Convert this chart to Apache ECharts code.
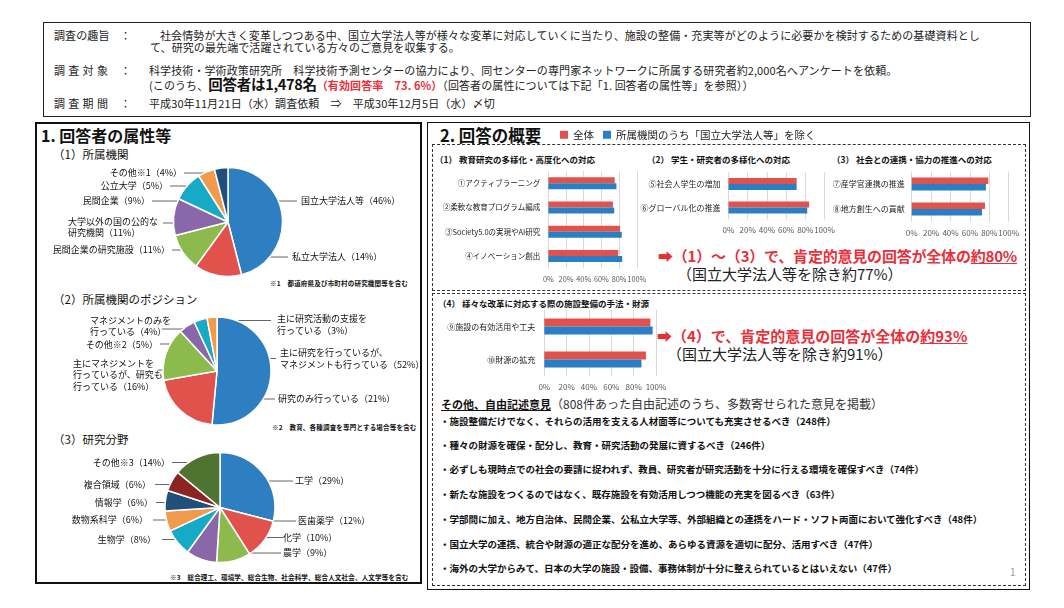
<!DOCTYPE html>
<html><head><meta charset="utf-8">
<script src="https://cdn.jsdelivr.net/npm/echarts@6/dist/echarts.min.js"></script>
<style>
html,body{margin:0;padding:0;background:#fff;}
#wrap{position:relative;width:1064px;height:608px;overflow:hidden;font-family:"Noto Sans CJK JP",sans-serif;color:#111;}
.t{position:absolute;white-space:nowrap;line-height:1;}
.box{position:absolute;box-sizing:border-box;}
.b{font-weight:bold;}
.red{color:#E8303A;}
#chart{position:absolute;left:0;top:0;width:1064px;height:608px;}
.h{font-size:11px;letter-spacing:0.1px;color:#222;}
.lab{font-size:11px;letter-spacing:3.3px;color:#222;}
.fn{font-size:6.5px;font-weight:bold;letter-spacing:0.2px;}
.sec{font-size:8.5px;font-weight:bold;}
.bul{font-size:9.5px;font-weight:bold;left:440px;}
.big{font-size:15px;}
</style></head>
<body><div id="wrap">
<!-- boxes -->
<div class="box" style="left:43px;top:22px;width:988px;height:95px;border:1px solid #222;"></div>
<div class="box" style="left:35px;top:122px;width:387px;height:462px;border:2px solid #111;"></div>
<div class="box" style="left:427px;top:122px;width:603px;height:468px;border:1.5px solid #111;"></div>
<div class="box" style="left:432px;top:144px;width:594px;height:147px;border:1.5px dashed #333;"></div>
<div class="box" style="left:432px;top:293px;width:594px;height:293px;border:1.5px dashed #333;"></div>

<!-- header -->
<div class="t h" style="left:54px;top:29.5px;">調査の趣旨</div>
<div class="t h" style="left:120px;top:29.5px;">：</div>
<div class="t h" style="left:160px;top:29.5px;">社会情勢が大きく変革しつつある中、国立大学法人等が様々な変革に対応していくに当たり、施設の整備・充実等がどのように必要かを検討するための基礎資料とし</div>
<div class="t h" style="left:150px;top:42px;">て、研究の最先端で活躍されている方々のご意見を収集する。</div>
<div class="t lab" style="left:54px;top:64.5px;">調査対象</div>
<div class="t h" style="left:120px;top:64.5px;">：</div>
<div class="t h" style="left:149px;top:64.5px;">科学技術・学術政策研究所　科学技術予測センターの協力により、同センターの専門家ネットワークに所属する研究者約2,000名へアンケートを依頼。</div>
<div class="t h" style="left:149px;top:77px;line-height:14px;">(このうち、<span style="font-size:14.5px;font-weight:bold;color:#111;letter-spacing:-0.3px;">回答者は1,478名</span><span class="red b">（有効回答率　73. 6%）</span>（回答者の属性については下記「1. 回答者の属性等」を参照））</div>
<div class="t lab" style="left:54px;top:97.5px;">調査期間</div>
<div class="t h" style="left:120px;top:97.5px;">：</div>
<div class="t h" style="left:149px;top:97.5px;">平成30年11月21日（水）調査依頼　⇒　平成30年12月5日（水）〆切</div>

<!-- left panel -->
<div class="t b" style="left:41px;top:127px;font-size:16px;">1. 回答者の属性等</div>
<div class="t" style="left:53px;top:149px;font-size:11.5px;">（1）所属機関</div>
<div class="t fn" style="left:270px;top:280px;">※1　都道府県及び市町村の研究機関等を含む</div>
<div class="t" style="left:53px;top:294px;font-size:11.5px;">（2）所属機関のポジション</div>
<div class="t fn" style="left:272px;top:424px;">※2　教育、各種調査を専門とする場合等を含む</div>
<div class="t" style="left:53px;top:433.5px;font-size:11.5px;">（3）研究分野</div>
<div class="t fn" style="left:170px;top:573.5px;">※3　総合理工、環境学、総合生物、社会科学、総合人文社会、人文学等を含む</div>

<!-- right panel -->
<div class="t b" style="left:440px;top:127px;font-size:16.5px;">2. 回答の概要</div>
<div class="t sec" style="left:435px;top:155px;">（1） 教育研究の多様化・高度化への対応</div>
<div class="t sec" style="left:647px;top:155px;">（2） 学生・研究者の多様化への対応</div>
<div class="t sec" style="left:832px;top:155px;">（3） 社会との連携・協力の推進への対応</div>
<div class="t big b red" style="left:658px;top:247.5px;letter-spacing:-0.2px;">➡（1）～（3）で、肯定的意見の回答が全体の<span style="text-decoration:underline;">約80%</span></div>
<div class="t big" style="left:677px;top:266px;color:#222;">（国立大学法人等を除き約77%）</div>
<div class="t sec" style="left:438px;top:298.5px;">（4） 様々な改革に対応する際の施設整備の手法・財源</div>
<div class="t big b red" style="left:657px;top:327.5px;">➡（4）で、肯定的意見の回答が全体の<span style="text-decoration:underline;">約93%</span></div>
<div class="t big" style="left:667px;top:346px;color:#222;">（国立大学法人等を除き約91%）</div>

<div class="t" style="left:441px;top:398px;font-size:12px;"><span class="b" style="text-decoration:underline;font-size:11px;">その他、自由記述意見</span><span style="color:#333;">（808件あった自由記述のうち、多数寄せられた意見を掲載）</span></div>
<div class="t bul" style="top:417px;">・施設整備だけでなく、それらの活用を支える人材面等についても充実させるべき（248件）</div>
<div class="t bul" style="top:441px;">・種々の財源を確保・配分し、教育・研究活動の発展に資するべき（246件）</div>
<div class="t bul" style="top:465px;">・必ずしも現時点での社会の要請に捉われず、教員、研究者が研究活動を十分に行える環境を確保すべき（74件）</div>
<div class="t bul" style="top:490px;">・新たな施設をつくるのではなく、既存施設を有効活用しつつ機能の充実を図るべき（63件）</div>
<div class="t bul" style="top:515px;">・学部間に加え、地方自治体、民間企業、公私立大学等、外部組織との連携をハード・ソフト両面において強化すべき（48件）</div>
<div class="t bul" style="top:540px;">・国立大学の連携、統合や財源の適正な配分を進め、あらゆる資源を適切に配分、活用すべき（47件）</div>
<div class="t bul" style="top:564px;">・海外の大学からみて、日本の大学の施設・設備、事務体制が十分に整えられているとはいえない（47件）</div>
<div class="t" style="left:1010px;top:567px;font-size:10px;color:#999;">1</div>

<div id="chart"></div>
</div>
<script>
// ---------- data ----------
const pie1Names = ['国立大学法人等','私立大学法人','民間企業の研究施設','大学以外の国の公的な\n研究機関','民間企業','公立大学','その他※1'];
const pie1Values = [46,14,11,11,9,5,4];
const pie2Names = ['主に研究を行っているが、\nマネジメントも行っている','研究のみ行っている','主にマネジメントを\n行っているが、研究も\n行っている','その他※2','マネジメントのみを\n行っている','主に研究活動の支援を\n行っている'];
const pie2Values = [52,21,16,5,4,3];
const pie3Names = ['工学','医歯薬学','化学','農学','生物学','数物系科学','情報学','複合領域','その他※3'];
const pie3Values = [29,12,10,9,8,6,6,6,14];

const seriesNames = ['全体','所属機関のうち「国立大学法人等」を除く'];
const sec1Cats = ['①アクティブラーニング','②柔軟な教育プログラム編成','③Society5.0の実現やAI研究','④イノベーション創出'];
const sec1All  = [75,73,81,79];
const sec1Excl = [77,74.5,83,83.5];
const sec2Cats = ['⑤社会人学生の増加','⑥グローバル化の推進'];
const sec2All  = [71,84];
const sec2Excl = [71,82];
const sec3Cats = ['⑦産学官連携の推進','⑧地方創生への貢献'];
const sec3All  = [79,75.5];
const sec3Excl = [76.5,72.5];
const sec4Cats = ['⑨施設の有効活用や工夫','⑩財源の拡充'];
const sec4All  = [95,91];
const sec4Excl = [97,87];

// ---------- layout / style ----------
const FONT = '"Noto Sans CJK JP", sans-serif';
const pal1 = ['#2E7FC2','#E1524C','#8CBA4C','#8A67A8','#17AAC6','#F29A4C','#1F4F7A'];
const pal2 = ['#2E7FC2','#E1524C','#8CBA4C','#8A67A8','#17AAC6','#F29A4C'];
const pal3 = ['#2E7FC2','#E1524C','#8CBA4C','#8A67A8','#17AAC6','#F29A4C','#1F4F7A','#8C2422','#4F7330'];
// [labelX, labelY, align, lineX1, lineX2, lineY]
const pie1Lay = [
  [301,201,'left',243,297,201],
  [292,257,'left',218,288,257],
  [170,250,'right',172,190,250],
  [68,227,'left',163,203,223],
  [150,201,'right',152,207,201],
  [168,186,'right',170,213,186],
  [182,173,'right',184,217,173]
];
const pie2Lay = [
  [280,358.5,'left',237,276,358.5],
  [278,399,'left',190,275,399],
  [73,375,'left',158,178,370],
  [158,345,'right',160,202,344],
  [90,326,'left',162,207,329],
  [277,324.5,'left',213,271,320.5]
];
const pie3Lay = [
  [295,481,'left',247,293,481],
  [298,521,'left',252,296,521],
  [283,537.5,'left',230,283,537.5],
  [283,553,'left',208,281,553],
  [156,539.5,'right',162,192,539.5],
  [148,520,'right',153,182,520],
  [153,502.5,'right',156,178,502.5],
  [151,484.5,'right',155,180,484.5],
  [170,462.5,'right',172,207,462.5]
];

function pieSeries(names, values, pal, center, radius, lay) {
  return {
    type: 'pie', center: center, radius: radius, startAngle: 90, clockwise: true,
    avoidLabelOverlap: false, silent: true, animation: false,
    data: names.map((n, i) => ({ name: n, value: values[i], itemStyle: { color: pal[i] } })),
    itemStyle: { borderColor: '#fff', borderWidth: 1.5 },
    label: { show: true, position: 'outside', formatter: '{b}（{c}%）', fontSize: 9, lineHeight: 11.5,
             color: '#111', fontFamily: FONT },
    labelLine: { show: true, length: 5, length2: 5, lineStyle: { color: '#404040', width: 0.8 } },
    labelLayout: function (p) {
      const L = lay[p.dataIndex];
      return { x: L[0], y: L[1], align: L[2], verticalAlign: 'middle',
               labelLinePoints: [[L[3], L[5]], [L[4], L[5]]] };
    }
  };
}

const grids = [
  { left: 548.3, top: 171.2, width: 88.5, height: 97, bw: 6, m: 8, fs: 7.5, tfs: 7.3 },
  { left: 728.5, top: 172.3, width: 96, height: 47, bw: 6, m: 8, fs: 8, tfs: 8 },
  { left: 911.7, top: 171.5, width: 97, height: 50, bw: 6.5, m: 7, fs: 8, tfs: 8 },
  { left: 544.3, top: 310, width: 111.7, height: 66, bw: 8, m: 9, fs: 8, tfs: 8 }
];
const sections = [[sec1Cats, sec1All, sec1Excl],[sec2Cats, sec2All, sec2Excl],[sec3Cats, sec3All, sec3Excl],[sec4Cats, sec4All, sec4Excl]];
const barColors = ['#E1524C','#2A7FC4'];

const option = {
  backgroundColor: 'transparent',
  animation: false,
  textStyle: { fontFamily: FONT },
  legend: {
    data: seriesNames, left: 560, top: 129.5, itemWidth: 8, itemHeight: 8, itemGap: 9, icon: 'rect', padding: 0,
    textStyle: { fontSize: 10.5, color: '#222', fontFamily: FONT }, selectedMode: false
  },
  grid: grids.map(g => ({ left: g.left, top: g.top, width: g.width, height: g.height, containLabel: false, outerBoundsMode: 'none' })),
  xAxis: grids.map((g, i) => ({
    gridIndex: i, type: 'value', min: 0, max: 100, interval: 20,
    axisLine: { show: false }, axisTick: { show: false },
    splitLine: { show: true, lineStyle: { color: '#d9d9d9', width: 1 } },
    axisLabel: { formatter: '{value}%', fontSize: g.tfs, color: '#595959', margin: 7, fontFamily: FONT,
                 hideOverlap: false, showMinLabel: true, showMaxLabel: true, interval: 0 }
  })),
  yAxis: grids.map((g, i) => ({
    gridIndex: i, type: 'category', data: sections[i][0], inverse: true,
    axisLine: { show: false }, axisTick: { show: false }, splitLine: { show: false },
    axisLabel: { fontSize: g.fs, color: '#222', margin: g.m, fontFamily: FONT, interval: 0 }
  })),
  series: [
    pieSeries(pie1Names, pie1Values, pal1, [228, 222], 54.5, pie1Lay),
    pieSeries(pie2Names, pie2Values, pal2, [217, 371], 54, pie2Lay),
    pieSeries(pie3Names, pie3Values, pal3, [220, 507.5], 55, pie3Lay)
  ]
};
sections.forEach((s, i) => {
  [1, 2].forEach((k, j) => {
    option.series.push({
      type: 'bar', name: seriesNames[j], xAxisIndex: i, yAxisIndex: i, data: s[k],
      barWidth: grids[i].bw, barGap: '0%', silent: true,
      itemStyle: { color: barColors[j] }
    });
  });
});

const chart = echarts.init(document.getElementById('chart'), null, { renderer: 'canvas', width: 1064, height: 608 });
chart.setOption(option);
</script>
</body></html>
